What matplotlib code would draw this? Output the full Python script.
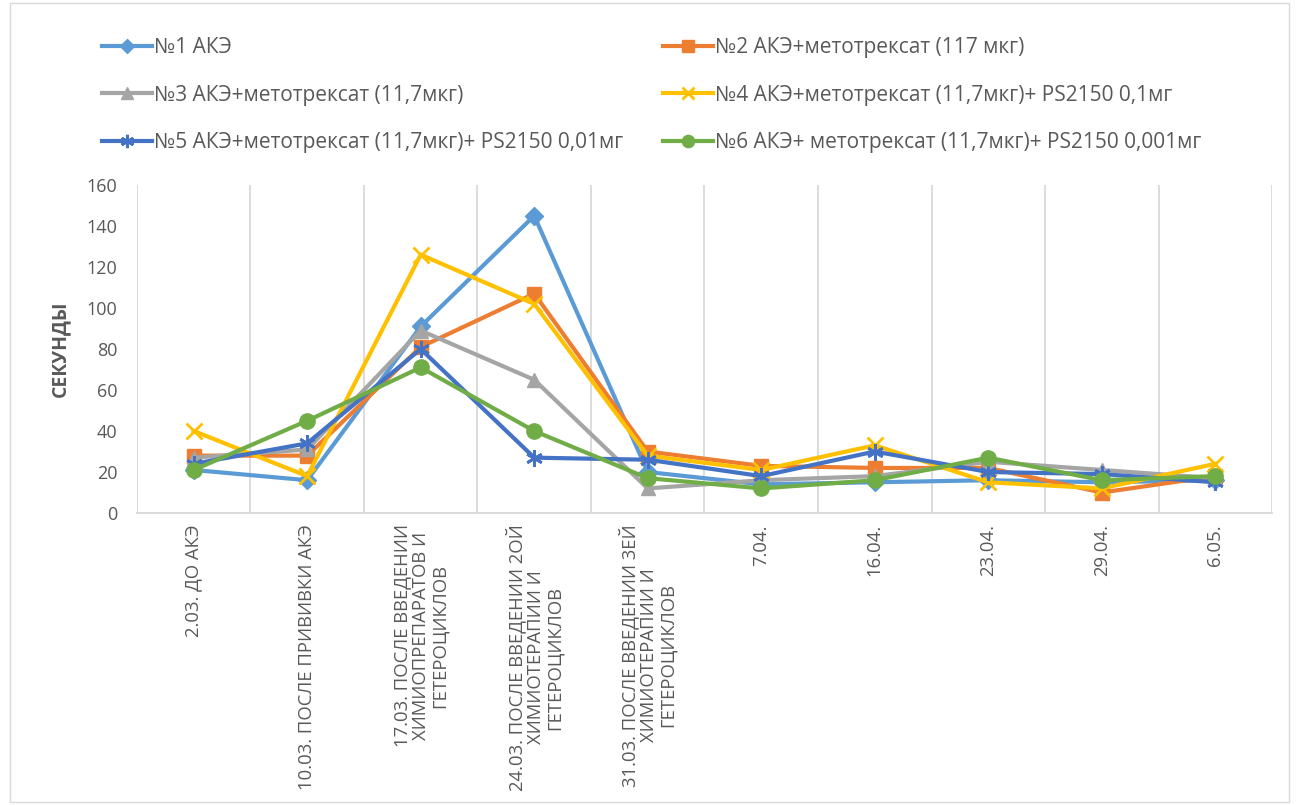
import matplotlib
matplotlib.use("Agg")
import matplotlib.pyplot as plt
import matplotlib.patches as patches
import numpy as np

plt.rcParams['font.family'] = ['Open Sans', 'Noto Sans', 'DejaVu Sans']

# --- Dados ---
categories = [
    "2.03. ДО АКЭ",
    "10.03. ПОСЛЕ ПРИВИВКИ АКЭ",
    "17.03. ПОСЛЕ ВВЕДЕНИИ\nХИМИОПРЕПАРАТОВ И\nГЕТЕРОЦИКЛОВ",
    "24.03. ПОСЛЕ ВВЕДЕНИИ 2ОЙ\nХИМИОТЕРАПИИ И\nГЕТЕРОЦИКЛОВ",
    "31.03. ПОСЛЕ ВВЕДЕНИИ 3ЕЙ\nХИМИОТЕРАПИИ И\nГЕТЕРОЦИКЛОВ",
    "7.04.",
    "16.04.",
    "23.04.",
    "29.04.",
    "6.05.",
]

names = [
    "№1 АКЭ",
    "№2 АКЭ+метотрексат (117 мкг)",
    "№3 АКЭ+метотрексат (11,7мкг)",
    "№4 АКЭ+метотрексат (11,7мкг)+ PS2150 0,1мг",
    "№5 АКЭ+метотрексат (11,7мкг)+ PS2150 0,01мг",
    "№6 АКЭ+ метотрексат (11,7мкг)+ PS2150 0,001мг",
]

s1 = [21, 16, 91, 145, 20, 14, 15, 16, 15, 16]
s2 = [28, 28, 81, 107, 30, 23, 22, 22, 10, 18]
s3 = [27, 31, 89, 65, 12, 16, 18, 25, 21, 17]
s4 = [40, 18, 126, 102, 28, 21, 33, 15, 12, 24]
s5 = [24, 34, 80, 27, 26, 18, 30, 20, 19, 15]
s6 = [21, 45, 71, 40, 17, 12, 16, 27, 16, 18]

series = [s1, s2, s3, s4, s5, s6]
colors = ['#5B9BD5', '#ED7D31', '#A5A5A5', '#FFC000', '#4472C4', '#70AD47']
markers = ['D', 's', '^', 'x', (6, 2, 0), 'o']
msizes = [9, 10, 10, 11, 12, 11]

fig = plt.figure(figsize=(12.98, 8.05), dpi=100)
ax = fig.add_axes([0.1055, 0.3627, 0.8745, 0.4075])

x = np.arange(len(categories))
handles = []
for vals, name, c, m, ms in zip(series, names, colors, markers, msizes):
    h, = ax.plot(x, vals, color=c, linewidth=3, marker=m, markersize=ms,
                 markerfacecolor=c, markeredgecolor=c,
                 markeredgewidth=2 if m in ('x', (6, 2, 0)) else 1,
                 label=name, zorder=3)
    handles.append(h)

ax.set_xlim(-0.5, len(categories) - 0.5)
ax.set_ylim(0, 160)
ax.set_yticks(np.arange(0, 161, 20))

# linhas de grade verticais nas divisões das categorias
for b in np.arange(-0.5, len(categories), 1.0):
    ax.axvline(b, color='#D9D9D9', linewidth=1.3, zorder=1)

for sp in ['top', 'right', 'left']:
    ax.spines[sp].set_visible(False)
ax.spines['bottom'].set_color('#D9D9D9')
ax.spines['bottom'].set_linewidth(1.3)

ax.set_xticks(x)
ax.set_xticklabels(categories, rotation=90, ha='center', va='top',
                   multialignment='center', linespacing=1.05)
ax.tick_params(axis='both', length=0, colors='#595959')
ax.tick_params(axis='x', labelsize=13.3, pad=8)
ax.tick_params(axis='y', labelsize=13, pad=14)

ax.set_ylabel("СЕКУНДЫ", fontsize=14, fontweight='bold', color='#595959', labelpad=12)

# legenda em duas colunas, ordem por linhas
order = [0, 2, 4, 1, 3, 5]
fig.legend([handles[i] for i in order], [names[i] for i in order],
           loc='upper left', bbox_to_anchor=(0.064, 0.977), ncol=2, frameon=False,
           fontsize=15, labelcolor='#595959', handlelength=2.4, handletextpad=0.1,
           columnspacing=1.9, labelspacing=1.27, markerscale=0.8)

# moldura do gráfico
fig.add_artist(patches.Rectangle((0.008, 0.004), 0.985, 0.992, transform=fig.transFigure,
                                 fill=False, edgecolor='#D9D9D9', linewidth=1))

fig.savefig("out.png", dpi=100)
